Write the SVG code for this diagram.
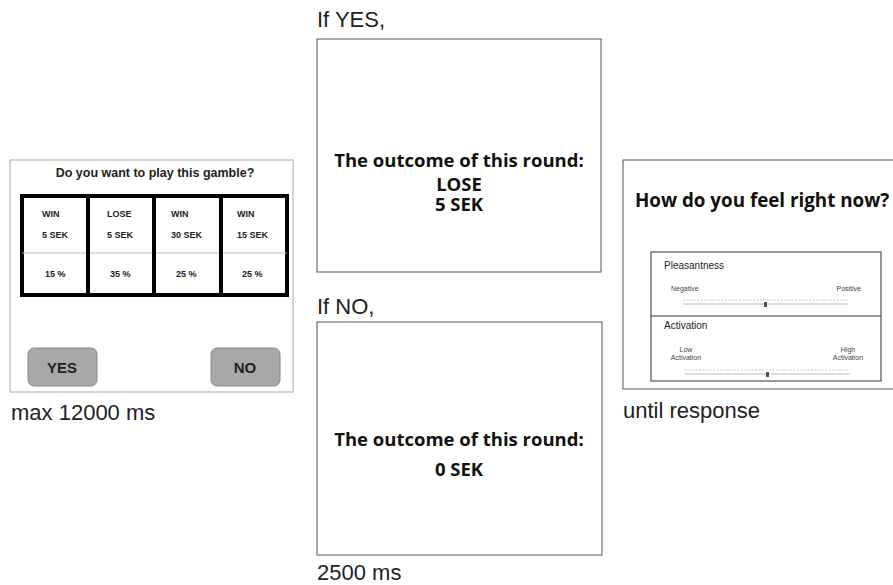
<svg xmlns="http://www.w3.org/2000/svg" width="893" height="585" viewBox="0 0 893 585">
<style>
.lbl{font-family:"Liberation Sans",Arial,sans-serif;font-size:22px;fill:#222}
.scr{fill:#fff;stroke:#555;stroke-width:1}
.cal{font-family:"Open Sans","Liberation Sans",sans-serif;font-weight:bold;font-size:18.5px;fill:#111;text-anchor:middle}
.cell{font-family:"Liberation Sans",Arial,sans-serif;font-weight:bold;font-size:9px;fill:#222}
.btn{fill:#a8a8a8;stroke:#888;stroke-width:1}
.btxt{font-family:"Liberation Sans",Arial,sans-serif;font-weight:bold;font-size:15px;fill:#222;text-anchor:middle}
.sm{font-family:"Liberation Sans",Arial,sans-serif;font-size:7px;fill:#444}
.md{font-family:"Liberation Sans",Arial,sans-serif;font-size:10px;fill:#222}
</style>
<rect width="893" height="585" fill="#fff"/>

<g id="gamble">
  <rect x="10" y="160" width="283" height="232" fill="#fff" stroke="#aaa" stroke-width="1"/>
  <text x="155" y="177" text-anchor="middle" font-family="Liberation Sans, Arial, sans-serif" font-weight="bold" font-size="12.5" fill="#222">Do you want to play this gamble?</text>
  <rect x="22" y="196" width="265" height="99" fill="#fff" stroke="#000" stroke-width="4"/>
  <line x1="22" y1="253" x2="287" y2="253" stroke="#bbb" stroke-width="1"/>
  <line x1="88" y1="196" x2="88" y2="295" stroke="#000" stroke-width="4"/>
  <line x1="154" y1="196" x2="154" y2="295" stroke="#000" stroke-width="4"/>
  <line x1="221" y1="196" x2="221" y2="295" stroke="#000" stroke-width="4"/>
  <text class="cell" x="42" y="217">WIN</text>
  <text class="cell" x="42" y="238">5 SEK</text>
  <text class="cell" x="45" y="277">15 %</text>
  <text class="cell" x="107" y="217">LOSE</text>
  <text class="cell" x="107" y="238">5 SEK</text>
  <text class="cell" x="110" y="277">35 %</text>
  <text class="cell" x="171" y="217">WIN</text>
  <text class="cell" x="171" y="238">30 SEK</text>
  <text class="cell" x="176" y="277">25 %</text>
  <text class="cell" x="237" y="217">WIN</text>
  <text class="cell" x="237" y="238">15 SEK</text>
  <text class="cell" x="242" y="277">25 %</text>
  <rect class="btn" x="28" y="348" width="69" height="38" rx="6"/>
  <text class="btxt" x="62" y="373">YES</text>
  <rect class="btn" x="211" y="348" width="69" height="38" rx="6"/>
  <text class="btxt" x="245" y="373">NO</text>
  <text class="lbl" x="11" y="420">max 12000 ms</text>
</g>

<g id="outcome-yes">
  <text class="lbl" x="317" y="27">If YES,</text>
  <rect class="scr" x="317" y="39" width="284" height="233"/>
  <text class="cal"><tspan x="459" y="167">The outcome of this round:</tspan><tspan x="459" y="191">LOSE</tspan><tspan x="459" y="211">5 SEK</tspan></text>
</g>

<g id="outcome-no">
  <text class="lbl" x="317" y="314">If NO,</text>
  <rect class="scr" x="317" y="322" width="285" height="233"/>
  <text class="cal" x="459" y="446">The outcome of this round:</text>
  <text class="cal" x="459" y="476">0 SEK</text>
  <text class="lbl" x="317" y="580">2500 ms</text>
</g>

<g id="rating">
  <rect x="623" y="160" width="280" height="229" fill="#fff" stroke="#555" stroke-width="1"/>
  <text x="635" y="207" font-family="Open Sans, Liberation Sans, sans-serif" font-weight="bold" font-size="18.8" fill="#111">How do you feel right now?</text>
  <rect x="651" y="252" width="230" height="129" fill="#fff" stroke="#333" stroke-width="1"/>
  <line x1="651" y1="316" x2="881" y2="316" stroke="#333" stroke-width="1"/>
  <text class="md" x="664" y="269">Pleasantness</text>
  <text class="sm" x="671" y="291">Negative</text>
  <text class="sm" x="861" y="291" text-anchor="end">Positive</text>
  <line x1="683" y1="300" x2="848" y2="300" stroke="#bbb" stroke-width="0.8" stroke-dasharray="2,1.5"/>
  <line x1="683" y1="304" x2="848" y2="304" stroke="#bbb" stroke-width="1"/>
  <rect x="764" y="302" width="3" height="5" fill="#555"/>
  <text class="md" x="664" y="329">Activation</text>
  <text class="sm" x="686" y="352" text-anchor="middle">Low</text>
  <text class="sm" x="686" y="360" text-anchor="middle">Activation</text>
  <text class="sm" x="848" y="352" text-anchor="middle">High</text>
  <text class="sm" x="848" y="360" text-anchor="middle">Activation</text>
  <line x1="685" y1="370" x2="850" y2="370" stroke="#bbb" stroke-width="0.8" stroke-dasharray="2,1.5"/>
  <line x1="685" y1="374" x2="850" y2="374" stroke="#bbb" stroke-width="1"/>
  <rect x="766" y="372" width="3" height="5" fill="#555"/>
  <text class="lbl" x="623" y="418">until response</text>
</g>

<g id="connectors"></g>
</svg>
